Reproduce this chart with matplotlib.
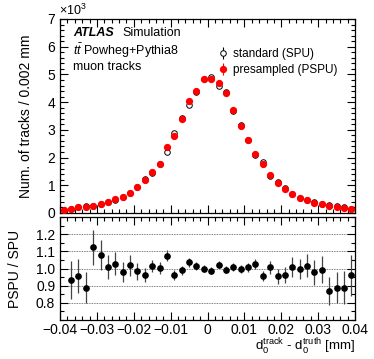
import numpy as np
import matplotlib
matplotlib.use("Agg")
import matplotlib.pyplot as plt
from matplotlib.ticker import MultipleLocator, FuncFormatter

plt.rcParams["font.family"] = ["Liberation Sans", "DejaVu Sans"]
plt.rcParams["mathtext.fontset"] = "custom"
plt.rcParams["mathtext.rm"] = "Liberation Sans"
plt.rcParams["mathtext.it"] = "Liberation Sans:italic"
plt.rcParams["mathtext.bf"] = "Liberation Sans:bold"

# bin edges, 0.002 mm wide
bin_edges = np.linspace(-0.04, 0.04, 41)
bin_centers = 0.5 * (bin_edges[:-1] + bin_edges[1:])

# presampled pile-up (red)
pspu = [100, 144, 202, 217, 264, 336, 408, 491, 578, 722,
        939, 1191, 1480, 1780, 2368, 2775, 3404, 4040, 4415, 4825,
        4838, 4685, 4325, 3725, 3145, 2646, 2130, 1769, 1357, 1075,
        880, 692, 550, 465, 375, 320, 248, 222, 191, 150]

# standard pile-up (open)
spu = [110, 155, 211, 245, 235, 311, 404, 478, 590, 709,
       955, 1237, 1458, 1773, 2203, 2882, 3438, 3903, 4350, 4825,
       4897, 4580, 4360, 3688, 3158, 2630, 2078, 1847, 1346, 1127,
       915, 687, 552, 457, 384, 322, 285, 250, 215, 156]

# PSPU / SPU ratio (first bin not shown)
ratio = [np.nan, 0.931, 0.958, 0.887, 1.123, 1.079, 1.010, 1.027, 0.979, 1.019,
         0.983, 0.963, 1.015, 1.004, 1.075, 0.963, 0.990, 1.035, 1.015, 1.000,
         0.988, 1.023, 0.992, 1.010, 0.996, 1.006, 1.025, 0.958, 1.008, 0.954,
         0.962, 1.008, 0.996, 1.017, 0.977, 0.994, 0.871, 0.887, 0.888, 0.960]
ratio_err = [np.nan, 0.11, 0.10, 0.09, 0.10, 0.085, 0.07, 0.067, 0.06, 0.06,
             0.05, 0.04, 0.035, 0.035, 0.033, 0.03, 0.025, 0.025, 0.022, 0.02,
             0.02, 0.02, 0.02, 0.022, 0.025, 0.025, 0.03, 0.03, 0.038, 0.043,
             0.046, 0.057, 0.06, 0.067, 0.072, 0.08, 0.082, 0.09, 0.096, 0.12]

fig = plt.figure(figsize=(3.74, 3.59), dpi=100)
ax = fig.add_axes([60 / 374, 1 - 213 / 359, 295 / 374, 194 / 359])
rax = fig.add_axes([60 / 374, 1 - 320 / 359, 295 / 374, 103 / 359])

zeros = np.zeros(len(bin_centers))
ax.errorbar(bin_centers, spu, yerr=zeros, fmt="o", mfc="white", mec="black",
            mew=0.7, ms=4.0, color="black", elinewidth=0.8, label="standard (SPU)", zorder=2)
ax.errorbar(bin_centers, pspu, yerr=zeros, fmt="o", mfc="red", mec="red",
            ms=4.2, color="red", elinewidth=0.8, label="presampled (PSPU)", zorder=3)

ax.set_xlim(-0.04, 0.04)
ax.set_ylim(0, 7000)
ax.yaxis.set_major_locator(MultipleLocator(1000))
ax.yaxis.set_minor_locator(MultipleLocator(200))
ax.yaxis.set_major_formatter(FuncFormatter(lambda v, p: f"{v / 1000:g}"))
ax.set_ylabel("Num. of tracks / 0.002 mm", fontsize=10, labelpad=10)
ax.tick_params(labelbottom=False)
ax.text(-0.005, 1.005, r"$\times$10$^{3}$", transform=ax.transAxes, fontsize=9,
        ha="left", va="bottom")

# ATLAS label block
ax.text(0.045, 0.928, "ATLAS", transform=ax.transAxes, fontsize=9,
        fontweight="bold", fontstyle="italic", va="center")
ax.text(0.21, 0.928, "Simulation", transform=ax.transAxes, fontsize=9, va="center")
ax.text(0.045, 0.835, r"$t\bar{t}$ Powheg+Pythia8", transform=ax.transAxes,
        fontsize=9, va="center")
ax.text(0.045, 0.753, "muon tracks", transform=ax.transAxes, fontsize=9, va="center")

leg = ax.legend(loc="upper left", bbox_to_anchor=(0.52, 0.875), frameon=False,
                fontsize=8.5, handlelength=0.8, handletextpad=0.5,
                labelspacing=0.35, borderaxespad=0)

rax.errorbar(bin_centers, ratio, yerr=ratio_err, fmt="o", ms=3.8,
             color="black", ecolor="#444444", elinewidth=0.9)
rax.set_xlim(-0.04, 0.04)
rax.set_ylim(0.7, 1.3)
for g in [0.8, 0.9, 1.0, 1.1, 1.2]:
    rax.axhline(g, color="#555555", lw=0.6, ls=(0, (1, 1)), zorder=0)
rax.yaxis.set_minor_locator(MultipleLocator(0.05))
rax.set_yticks([0.8, 0.9, 1.0, 1.1, 1.2])
rax.yaxis.set_major_formatter(FuncFormatter(lambda v, p: f"{v:.1f}"))
rax.set_ylabel("PSPU / SPU", fontsize=10, labelpad=10)
rax.xaxis.set_major_formatter(FuncFormatter(lambda v, p: "0" if abs(v) < 1e-9 else f"{v:.2f}".replace("-", "\u2212")))
rax.set_xlabel(r"d$_{0}^{\mathrm{track}}$ - d$_{0}^{\mathrm{truth}}$ [mm]",
               fontsize=9.5, loc="right", labelpad=0)

for a in (ax, rax):
    a.xaxis.set_major_locator(MultipleLocator(0.01))
    a.xaxis.set_minor_locator(MultipleLocator(0.002))
    a.tick_params(which="both", direction="in", top=True, right=True, labelsize=10)
    a.tick_params(which="major", length=6, width=0.8)
    a.tick_params(which="minor", length=3, width=0.8)
    a.tick_params(axis="x", pad=2)
    for s in a.spines.values():
        s.set_linewidth(0.9)

fig.savefig("out.png", dpi=100)
